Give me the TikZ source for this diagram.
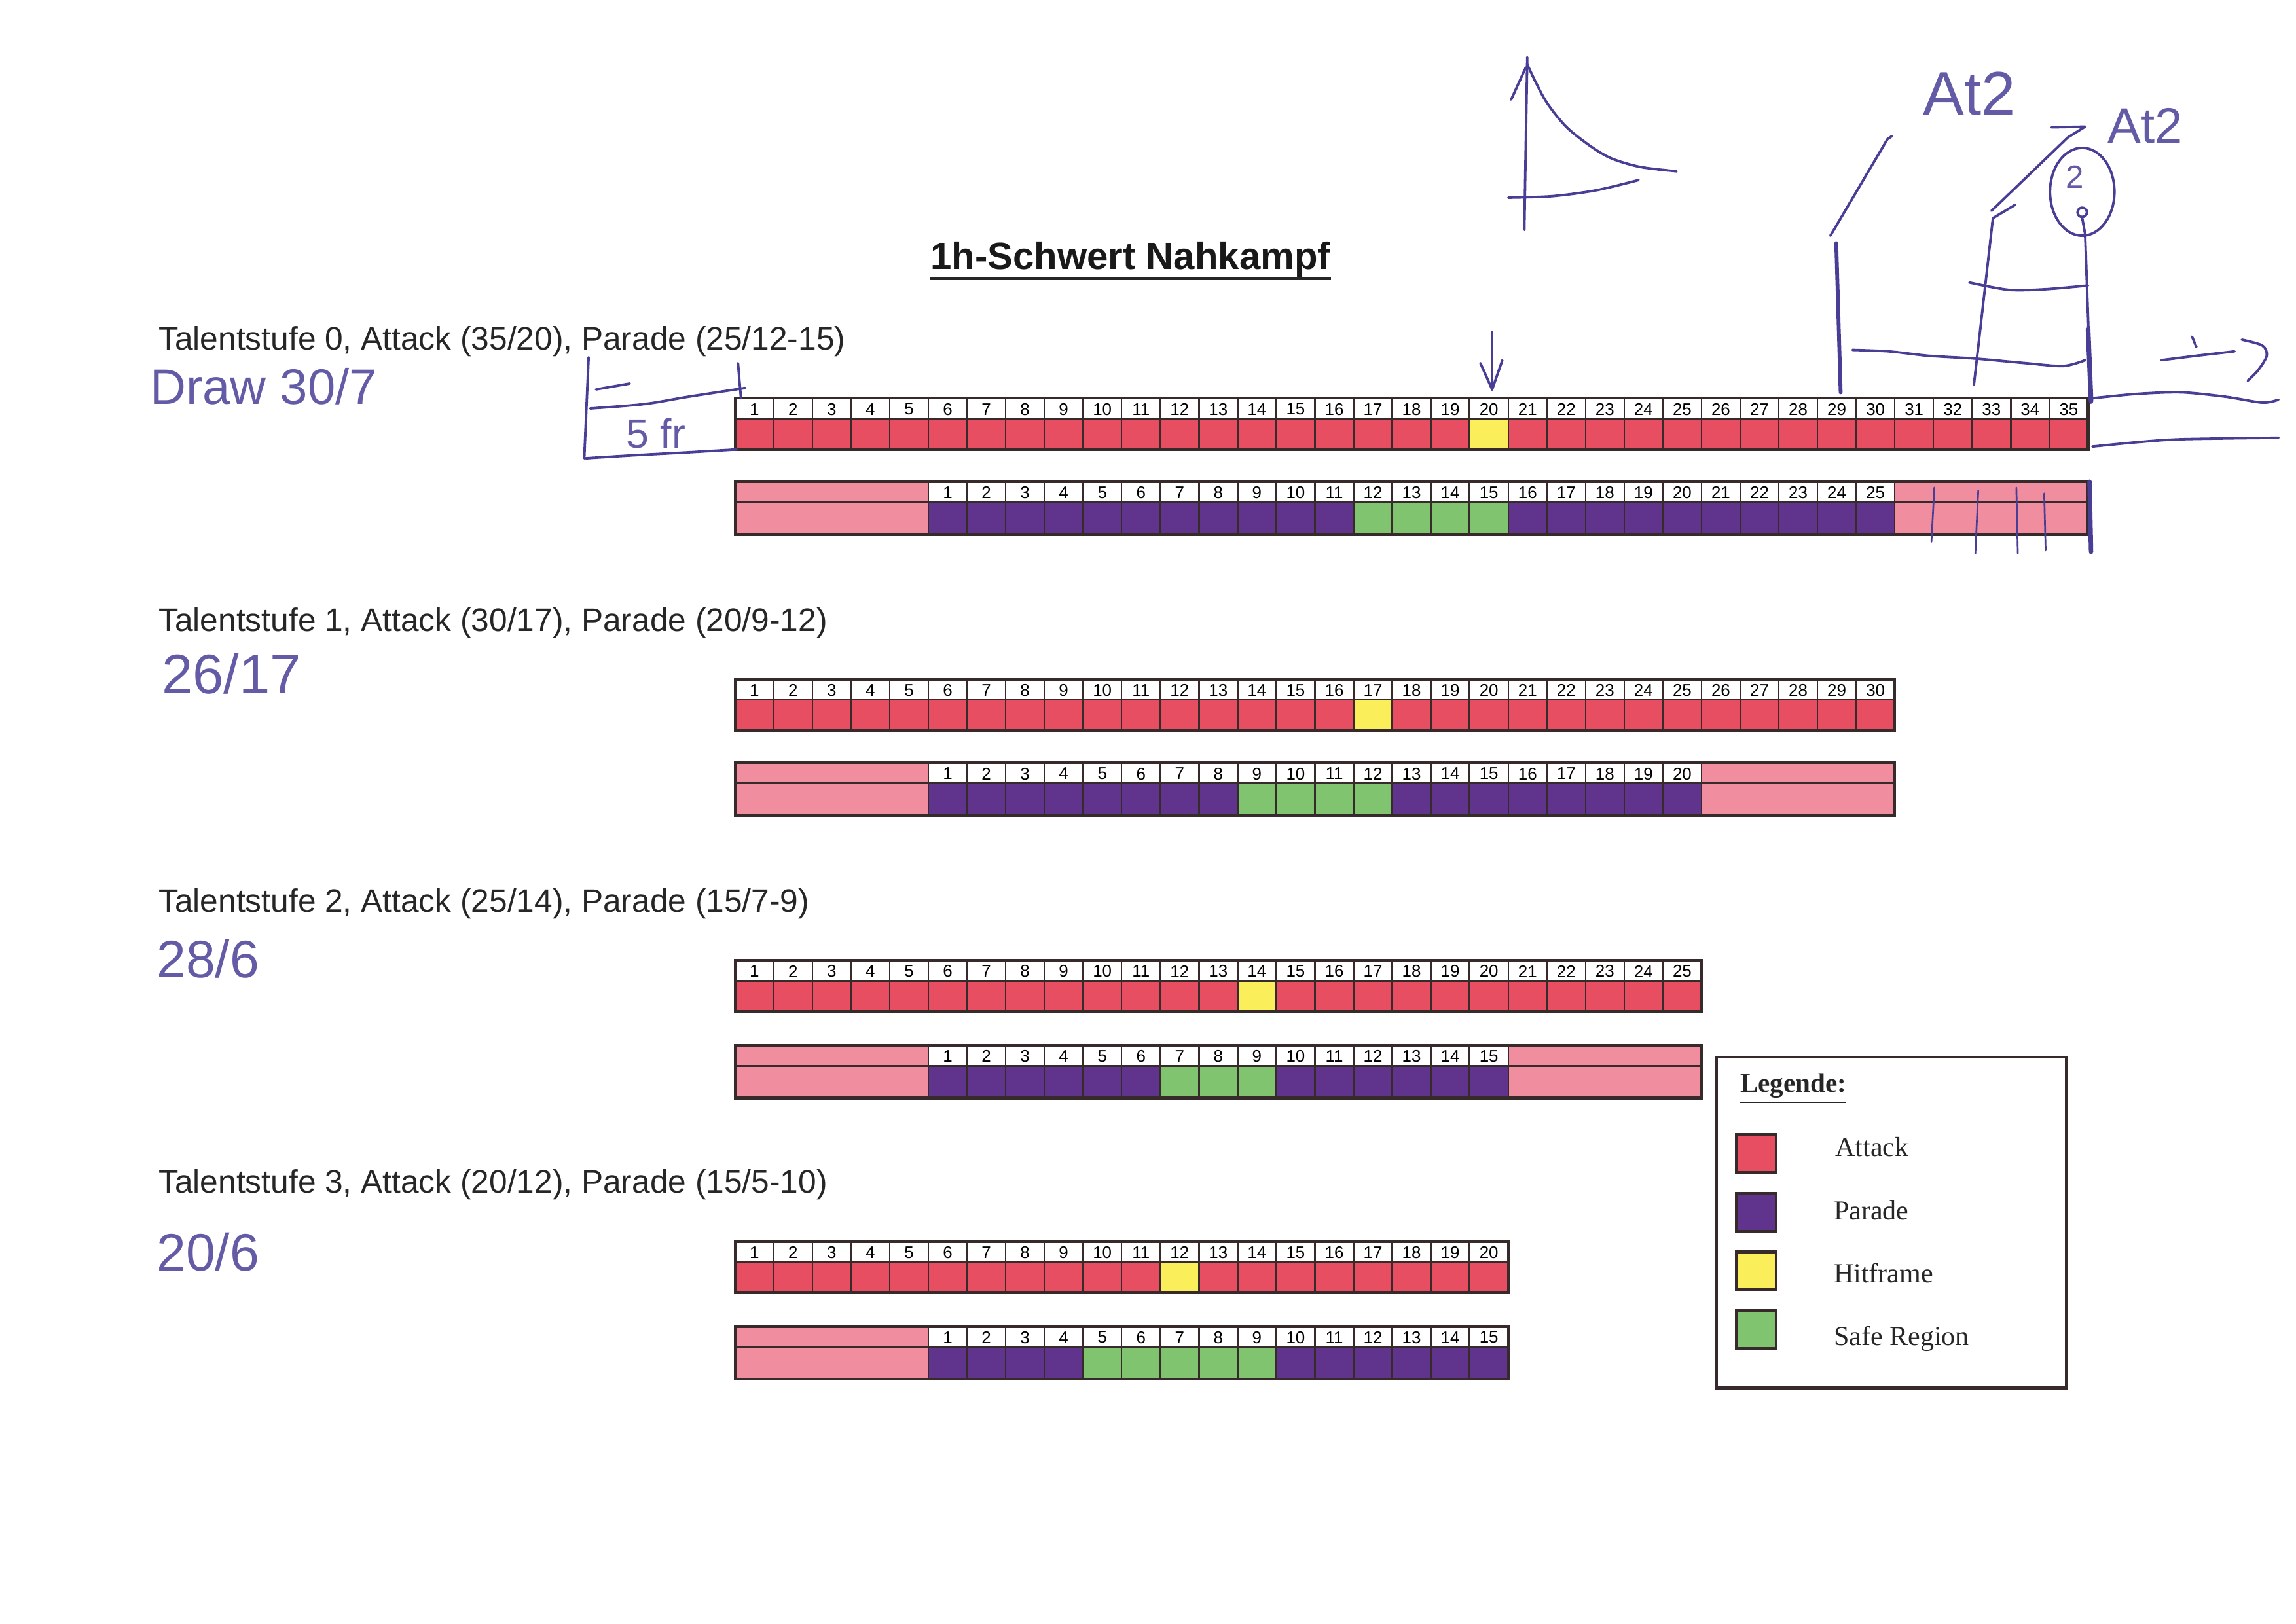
\documentclass[tikz,border=0pt]{standalone}
\usepackage{fontspec}
\setmainfont{Liberation Serif}
\setsansfont{Liberation Sans}
\newfontfamily\handfont{Liberation Sans}
\usetikzlibrary{arrows.meta}

\definecolor{atk}{RGB}{231,78,98}
\definecolor{parc}{RGB}{96,52,140}
\definecolor{pinkc}{RGB}{240,142,160}
\definecolor{hitc}{RGB}{250,238,90}
\definecolor{safec}{RGB}{128,196,112}
\definecolor{outl}{RGB}{55,42,42}
\definecolor{inkc}{RGB}{72,62,150}

\tikzset{
  gridl/.style={draw=outl, line width=0.55pt},
  outer/.style={draw=outl, line width=0.95pt},
  num/.style={font=\sffamily\fontsize{5.8}{6}\selectfont, inner sep=0pt, text=black},
  lab/.style={font=\sffamily\fontsize{11.1}{12}\selectfont, anchor=base west, inner sep=0pt, text=black!85},
  leg/.style={font=\fontsize{9.4}{10}\selectfont, anchor=base west, inner sep=0pt, text=black!85},
  swatch/.style={draw=outl, line width=1pt},
  ink/.style={draw=inkc, line width=0.85pt, line cap=round, line join=round},
  hand/.style={text=inkc!85, inner sep=0pt},
}

\newcommand{\atkbar}[4]{%
  \foreach \i in {1,...,#3}{%
    \pgfmathsetmacro{\xa}{502+(\i-1)*26.4}%
    \pgfmathsetmacro{\xb}{502+\i*26.4}%
    \ifnum\i=#4\relax\def\cc{hitc}\else\def\cc{atk}\fi
    \fill[fill=\cc] (\xa,#2+14) rectangle (\xb,#2+35);
    \draw[gridl] (\xa,#2) rectangle (\xb,#2+35);
    \node[num] (#1-\i) at ({(\xa+\xb)/2},#2+7.5) {\i};
  }%
  \pgfmathsetmacro{\xe}{502+#3*26.4}%
  \draw[gridl] (502,#2+14) -- (\xe,#2+14);
  \draw[outer] (502,#2) rectangle (\xe,#2+35);
}

\newcommand{\parbar}[6]{%
  \fill[pinkc] (502,#2) rectangle (634,#2+36);
  \foreach \i in {1,...,#3}{%
    \pgfmathsetmacro{\xa}{634+(\i-1)*26.4}%
    \pgfmathsetmacro{\xb}{634+\i*26.4}%
    \ifnum\i<#4\relax\def\cc{parc}\else\ifnum\i>#5\relax\def\cc{parc}\else\def\cc{safec}\fi\fi
    \fill[fill=\cc] (\xa,#2+14) rectangle (\xb,#2+36);
    \draw[gridl] (\xa,#2) rectangle (\xb,#2+36);
    \node[num] (#1-\i) at ({(\xa+\xb)/2},#2+7.5) {\i};
  }%
  \pgfmathsetmacro{\xe}{634+#3*26.4}%
  \ifnum#6=1\relax
    \pgfmathsetmacro{\xf}{\xe+132}%
    \fill[pinkc] (\xe,#2) rectangle (\xf,#2+36);
    \draw[gridl] (\xe,#2) -- (\xe,#2+36);
  \else
    \pgfmathsetmacro{\xf}{\xe}%
  \fi
  \draw[gridl] (502,#2+14) -- (\xf,#2+14);
  \draw[outer] (502,#2) rectangle (\xf,#2+36);
}

\begin{document}
\begin{tikzpicture}[x=0.5pt,y=-0.5pt]
\useasboundingbox (0,0) rectangle (1568,1109);
\fill[white] (0,0) rectangle (1568,1109);

% title
\node[font=\sffamily\bfseries\fontsize{13}{14}\selectfont, anchor=base, inner sep=0pt, text=black!90] (title) at (772,184) {1h-Schwert Nahkampf};
\draw[draw=black!85, line width=1.1pt] (title.base west) ++(0,6) -- ([yshift=-3pt]title.base east);

% row labels
\node[lab] (lab0) at (108,239) {Talentstufe 0, Attack (35/20), Parade (25/12-15)};
\node[lab] (lab1) at (108,431) {Talentstufe 1, Attack (30/17), Parade (20/9-12)};
\node[lab] (lab2) at (108,623) {Talentstufe 2, Attack (25/14), Parade (15/7-9)};
\node[lab] (lab3) at (108,815) {Talentstufe 3, Attack (20/12), Parade (15/5-10)};

% bars
\atkbar{a0}{272}{35}{20}
\parbar{p0}{329}{25}{12}{15}{1}
\atkbar{a1}{464}{30}{17}
\parbar{p1}{521}{20}{9}{12}{1}
\atkbar{a2}{656}{25}{14}
\parbar{p2}{714}{15}{7}{9}{1}
\atkbar{a3}{848}{20}{12}
\parbar{p3}{906}{15}{5}{9}{0}

% legend
\draw[draw=outl, line width=1pt] (1172,722) rectangle (1411,948);
\node[font=\bfseries\fontsize{9.2}{10}\selectfont, anchor=base west, inner sep=0pt, text=black!85] (legtitle) at (1188,746) {\underline{Legende:}};
\draw[swatch, fill=atk]   (1186,775) rectangle (1213,801);
\draw[swatch, fill=parc]  (1186,815) rectangle (1213,841);
\draw[swatch, fill=hitc]  (1186,855) rectangle (1213,881);
\draw[swatch, fill=safec] (1186,895) rectangle (1213,921);
\node[leg] (legA) at (1253,790) {Attack};
\node[leg] (legP) at (1252,833) {Parade};
\node[leg] (legH) at (1252,876) {Hitframe};
\node[leg] (legS) at (1252,919) {Safe Region};

% ---------------- handwritten annotations ----------------
\node[hand, font=\handfont\fontsize{17}{18}\selectfont] (h0) at (180,264) {Draw 30/7};
\node[hand, font=\handfont\fontsize{19}{20}\selectfont] (h1) at (158,460) {26/17};
\node[hand, font=\handfont\fontsize{18}{19}\selectfont] (h2) at (142,655) {28/6};
\node[hand, font=\handfont\fontsize{18}{19}\selectfont] (h3) at (142,855) {20/6};

% left sketch at row 0
\draw[ink] (402,244) -- (399,313);
\draw[ink] (407,266) -- (430,262);
\draw[ink] plot[smooth] coordinates {(403,279) (440,276) (470,271) (509,265)};
\draw[ink] (504,248) -- (506,272);
\draw[ink] plot[smooth] coordinates {(400,313) (432,311) (469,309) (503,307)};
\node[hand, font=\handfont\fontsize{14}{15}\selectfont] (hfr) at (448,296) {5 fr};

% arrow at cell 20
\draw[ink] (1019,227) -- (1019,266);
\draw[ink] (1011,248) -- (1019,266) -- (1026,246);

% decay sketch
\draw[ink] (1041,157) -- (1043,39);
\draw[ink] (1032,68) -- (1042,46);
\draw[ink] plot[smooth] coordinates {(1043,44) (1055,68) (1069,86) (1085,99) (1100,108) (1120,114) (1145,117)};
\draw[ink] plot[smooth] coordinates {(1030,135) (1060,134) (1090,130) (1119,123)};

% top right sketch
\node[hand, font=\handfont\fontsize{21}{22}\selectfont] (hat1) at (1345,64) {At2};
\node[hand, font=\handfont\fontsize{17}{18}\selectfont] (hat2) at (1465,86) {At2};
\draw[ink] (1292,93) -- (1289,95) -- (1250,161);
\draw[ink, line width=1.3pt] (1254,166) -- (1257,268);
\draw[ink] plot[smooth] coordinates {(1265,239) (1290,240) (1317,243) (1350,245) (1383,248) (1409,250) (1424,246)};
\draw[ink] (1361,149) -- (1348,263);
\draw[ink] (1360,144) -- (1412,94) -- (1424,86.5) -- (1401,87);
\draw[ink] (1361,149) -- (1376,140);
\draw[ink] plot[smooth] coordinates {(1345,193) (1372,198) (1398,197.5) (1426,195)};
\draw[ink] (1422,131) ellipse [x radius=11pt, y radius=15pt];
\node[hand, font=\handfont\fontsize{11}{12}\selectfont] (hc2) at (1417,121) {2};
\draw[ink] (1422,145) circle [radius=1.6pt];
\draw[ink] (1422,149) -- (1424,160) -- (1428,275);
\draw[ink, line width=1.6pt] (1426,225) -- (1428,274);
\draw[ink] plot[smooth] coordinates {(1476,246) (1500,243) (1526,240)};
\draw[ink] plot[smooth] coordinates {(1531,232) (1545,236) (1548,243) (1542,253) (1535,260)};
\draw[ink] (1497,230) -- (1500,237);
\draw[ink] plot[smooth] coordinates {(1429,272) (1460,269) (1490,268) (1520,271) (1545,275) (1556,273)};
\draw[ink] plot[smooth] coordinates {(1429,305) (1460,302) (1490,300) (1556,299)};

% strokes over trailing pink of parade 0
\draw[ink, line width=0.6pt] (1321,333) -- (1319,370);
\draw[ink, line width=0.6pt] (1351,335) -- (1349,378);
\draw[ink, line width=0.6pt] (1377,333) -- (1378,378);
\draw[ink, line width=0.6pt] (1396,337) -- (1397,376);
\draw[ink, line width=1.5pt] (1427,329) -- (1428,377);
\end{tikzpicture}
\end{document}
